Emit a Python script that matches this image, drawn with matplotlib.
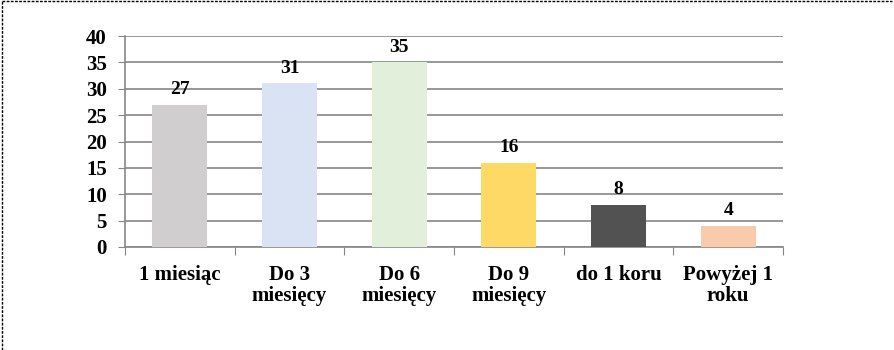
import matplotlib.pyplot as plt
from matplotlib.lines import Line2D

categories = ['1 miesiąc', 'Do 3\nmiesięcy', 'Do 6\nmiesięcy', 'Do 9\nmiesięcy', 'do 1 koru', 'Powyżej 1\nroku']
values = [27, 31, 35, 16, 8, 4]
colors = ['#D0CECE', '#DAE3F3', '#E2EFDA', '#FFD966', '#525252', '#F8CBAD']
yticks = [0, 5, 10, 15, 20, 25, 30, 35, 40]

plt.rcParams['font.family'] = ['Liberation Serif', 'DejaVu Serif']
plt.rcParams['font.weight'] = 'bold'

fig = plt.figure(figsize=(8.94, 3.5), dpi=100)
ax = fig.add_axes([125 / 894, 1 - 247 / 350, 658 / 894, 211 / 350])

grid_c = '#868686'
x = range(len(values))
bars = ax.bar(x, values, width=0.5, color=colors, zorder=3)
for xi, v in zip(x, values):
    ax.text(xi, v + 1.3, str(v), ha='center', va='bottom', fontsize=14, fontweight='bold')

ax.set_xlim(-0.5, len(values) - 0.5)
ax.set_ylim(0, 40)
ax.set_yticks(yticks)
ax.set_yticklabels([str(t) for t in yticks], fontsize=15, fontweight='bold')
ax.yaxis.grid(True, color=grid_c, linewidth=1.2, zorder=0)
ax.set_axisbelow(True)

ax.set_xticks([i - 0.5 for i in range(len(values) + 1)])
ax.set_xticklabels([])
ax.set_xticks(list(x), minor=True)
ax.set_xticklabels(categories, minor=True, fontsize=15, fontweight='bold', linespacing=1.05)
ax.tick_params(axis='x', which='major', length=6, color=grid_c, direction='out')
ax.tick_params(axis='x', which='minor', length=0, pad=13)
ax.tick_params(axis='y', length=5, color=grid_c, pad=8)

for s in ['top', 'right']:
    ax.spines[s].set_visible(False)
for s in ['left', 'bottom']:
    ax.spines[s].set_color(grid_c)
    ax.spines[s].set_linewidth(1.2)

# dashed frame (top and left edges visible)
fig.add_artist(Line2D([0.002, 0.998], [0.996, 0.996], transform=fig.transFigure,
                      color='black', linestyle=(0, (2, 1)), linewidth=1))
fig.add_artist(Line2D([0.002, 0.002], [0.0, 0.996], transform=fig.transFigure,
                      color='black', linestyle=(0, (2, 1)), linewidth=1))

fig.savefig('out.png', dpi=100)
